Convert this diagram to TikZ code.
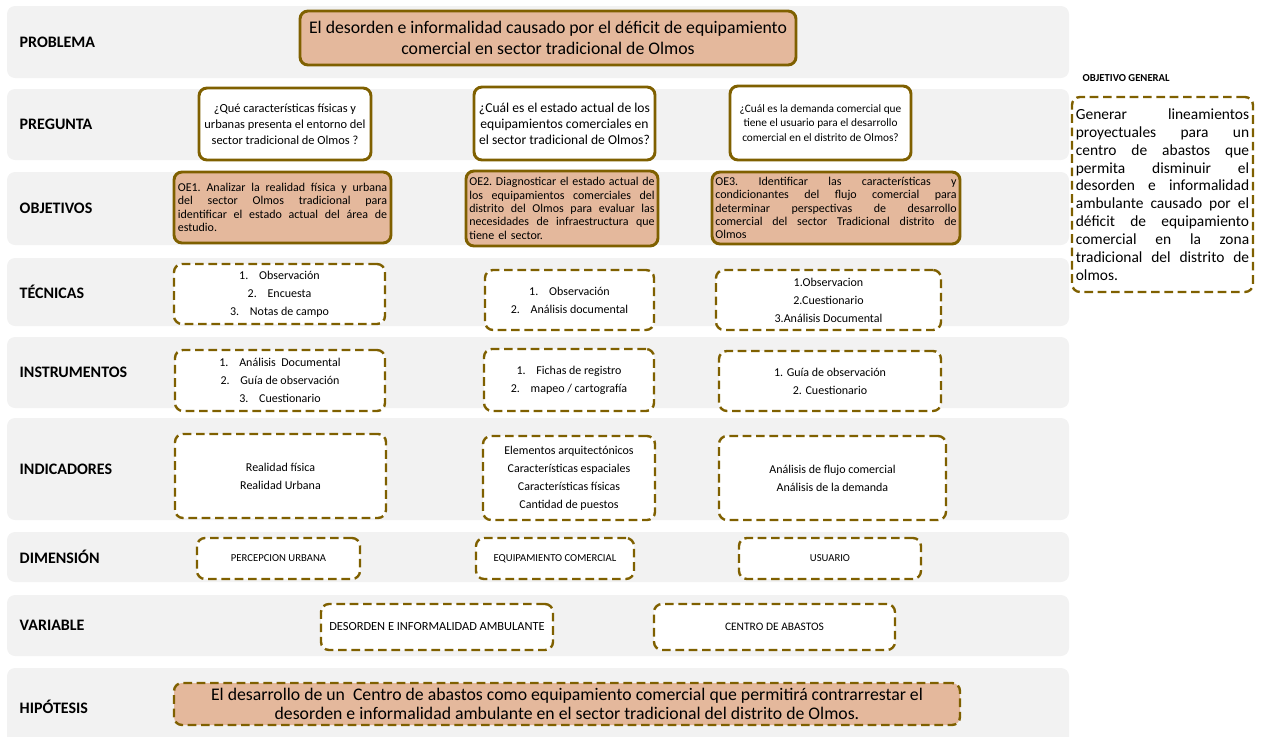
\documentclass[tikz,border=0pt]{standalone}
\usepackage{fontspec}
\setmainfont{Carlito}
\definecolor{oliva}{HTML}{7F6000}
\definecolor{salmon}{HTML}{E4B89C}
\definecolor{fondo}{HTML}{F2F2F2}
\newcommand{\lineaj}[1]{{\spaceskip=0.25em plus 1fil\xspaceskip=0.25em plus 1fil\makebox[\linewidth][s]{#1}}}
\newcommand{\nro}[1]{#1.\hspace{0.9em}}
\tikzset{
  franja/.style={fill=fondo, rounded corners=6pt},
  rotulo/.style={anchor=west, font=\fontsize{12}{14}\selectfont\bfseries},
  caja/.style={draw=oliva, rounded corners=6pt, align=center, inner sep=2pt},
  llena/.style={caja, line width=2.2pt},
  punteada/.style={caja, line width=1.8pt, dash pattern=on 6.5pt off 3.5pt, fill=white},
  lista/.style={punteada, font=\fontsize{9}{13.5}\selectfont},
  objetivo/.style={llena, fill=salmon, align=left, font=\fontsize{9}{10}\selectfont},
}
\begin{document}
\begin{tikzpicture}[x=0.75pt, y=-0.75pt, line join=round]
\useasboundingbox (0,0) rectangle (1268,736);
% franjas y rotulos
\foreach \arriba/\abajo/\nombre/\texto in {6/78/problema/PROBLEMA, 89/160/pregunta/PREGUNTA, 172/245/objetivos/OBJETIVOS, 258/326/tecnicas/TÉCNICAS, 337/408/instrumentos/INSTRUMENTOS, 418/520/indicadores/INDICADORES, 532/582/dimension/DIMENSIÓN, 595/656/variable/VARIABLE, 668/745/hipotesis/HIPÓTESIS}{
  \fill[franja] (7,\arriba) rectangle (1069,\abajo);
  \node[rotulo] (r-\nombre) at (15,{(\arriba+\abajo)/2}) {\texto};
}
% problema
\node[llena, fill=salmon, minimum width=372pt, minimum height=40.5pt, font=\fontsize{13.3}{16}\selectfont] (prob) at (548,38)
  {El desorden e informalidad causado por el déficit de equipamiento\\comercial en sector tradicional de Olmos};
% preguntas
\node[llena, fill=white, minimum width=129pt, minimum height=54pt, font=\fontsize{9.3}{12}\selectfont] (preg1) at (285,124)
  {¿Qué características físicas y\\urbanas presenta el entorno del\\sector tradicional de Olmos ?};
\node[llena, fill=white, minimum width=135.75pt, minimum height=54.75pt, font=\fontsize{10.2}{12}\selectfont] (preg2) at (564.5,123.5)
  {¿Cuál es el estado actual de los\\equipamientos comerciales en\\el sector tradicional de Olmos?};
\node[llena, fill=white, minimum width=135.75pt, minimum height=55.5pt, font=\fontsize{8.5}{11}\selectfont] (preg3) at (820.5,123)
  {¿Cuál es la demanda comercial que\\tiene el usuario para el desarrollo\\comercial en el distrito de Olmos?};
% objetivos especificos
\node[objetivo, minimum width=162.75pt, minimum height=53.25pt, text width=157pt] (oe1) at (282.5,207.5)
  {\lineaj{OE1. Analizar la realidad física y urbana}\\\lineaj{del sector Olmos tradicional para}\\\lineaj{identificar el estado actual del área de}\\estudio.};
\node[objetivo, minimum width=144pt, minimum height=56.25pt, text width=139pt] (oe2) at (562,208.5)
  {\lineaj{OE2. Diagnosticar el estado actual de}\\\lineaj{los equipamientos comerciales del}\\\lineaj{distrito del Olmos para evaluar las}\\\lineaj{necesidades de infraestructura que}\\tiene el sector.};
\node[objetivo, minimum width=186pt, minimum height=54pt, text width=181pt] (oe3) at (836,208)
  {\lineaj{OE3. Identificar las características y}\\\lineaj{condicionantes del flujo comercial para}\\\lineaj{determinar perspectivas de desarrollo}\\\lineaj{comercial del sector Tradicional distrito de}\\Olmos};
% tecnicas
\node[lista, minimum width=158.25pt, minimum height=45pt] (tec1) at (279.5,294)
  {\nro{1}Observación\\\nro{2}Encuesta\\\nro{3}Notas de campo};
\node[lista, minimum width=126.75pt, minimum height=45pt] (tec2) at (569.5,300)
  {\nro{1}Observación\\\nro{2}Análisis documental};
\node[lista, minimum width=168.75pt, minimum height=45pt] (tec3) at (828.5,300)
  {1.Observacion\\2.Cuestionario\\3.Análisis Documental};
% instrumentos
\node[lista, minimum width=157.5pt, minimum height=45.75pt] (ins1) at (280,380.5)
  {\nro{1}Análisis\ \ Documental\\\nro{2}Guía de observación\\\nro{3}Cuestionario};
\node[lista, minimum width=127.5pt, minimum height=46.5pt] (ins2) at (569,380)
  {\nro{1}Fichas de registro\\\nro{2}mapeo / cartografía};
\node[lista, minimum width=166.5pt, minimum height=45pt] (ins3) at (830,381)
  {1. Guía de observación\\2. Cuestionario};
% indicadores
\node[lista, minimum width=158.25pt, minimum height=63pt] (ind1) at (280.5,476)
  {Realidad física\\Realidad Urbana};
\node[lista, minimum width=129pt, minimum height=63pt] (ind2) at (569,478)
  {Elementos arquitectónicos\\Características espaciales\\Características físicas\\Cantidad de puestos};
\node[lista, minimum width=170.25pt, minimum height=63pt] (ind3) at (832.5,478)
  {Análisis de flujo comercial\\Análisis de la demanda};
% dimensiones
\node[punteada, minimum width=122.25pt, minimum height=30.75pt, font=\fontsize{8}{10}\selectfont] (dim1) at (278.5,558.5) {PERCEPCION URBANA};
\node[punteada, minimum width=118.5pt, minimum height=30.75pt, font=\fontsize{8}{10}\selectfont] (dim2) at (555,558.5) {EQUIPAMIENTO COMERCIAL};
\node[punteada, minimum width=136.5pt, minimum height=30.75pt, font=\fontsize{8}{10}\selectfont] (dim3) at (830,558.5) {USUARIO};
% variables
\node[punteada, minimum width=174pt, minimum height=34.5pt, font=\fontsize{9.3}{11}\selectfont] (var1) at (437,627) {DESORDEN E INFORMALIDAD AMBULANTE};
\node[punteada, minimum width=180.75pt, minimum height=34.5pt, font=\fontsize{8.6}{11}\selectfont] (var2) at (774.5,627) {CENTRO DE ABASTOS};
% hipotesis
\node[punteada, fill=salmon, minimum width=589.5pt, minimum height=31.5pt, font=\fontsize{13.3}{14.5}\selectfont] (hip) at (567,704)
  {El desarrollo de un \ Centro de abastos como equipamiento comercial que permitirá contrarrestar el\\desorden e informalidad ambulante en el sector tradicional del distrito de Olmos.};
% objetivo general
\node[anchor=west, font=\fontsize{8}{9}\selectfont\bfseries] (og-rotulo) at (1078,78) {OBJETIVO GENERAL};
\node[punteada, minimum width=135.75pt, minimum height=146.25pt, text width=130pt, align=left, font=\fontsize{11.6}{13.4}\selectfont] (og) at (1162.5,194.5)
  {\lineaj{Generar lineamientos}\\\lineaj{proyectuales para un}\\\lineaj{centro de abastos que}\\\lineaj{permita disminuir el}\\\lineaj{desorden e informalidad}\\\lineaj{ambulante causado por el}\\\lineaj{déficit de equipamiento}\\\lineaj{comercial en la zona}\\\lineaj{tradicional del distrito de}\\olmos.};
\end{tikzpicture}
\end{document}
